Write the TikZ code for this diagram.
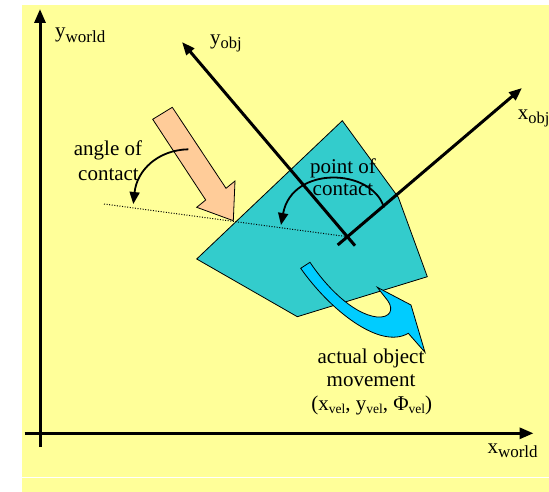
\documentclass[tikz,border=0pt]{standalone}
\usepackage{fontspec}
\setmainfont{Liberation Serif}
\usetikzlibrary{arrows.meta}
\definecolor{bgyellow}{HTML}{FFFF99}
\definecolor{objteal}{HTML}{33CCCC}
\definecolor{peach}{HTML}{FFCC99}
\definecolor{skyblue}{HTML}{00CCFF}
\newcommand{\sbs}[3]{\raisebox{-#1}{\fontsize{#2}{#2}\selectfont #3}}
\begin{document}
\begin{tikzpicture}[x=1pt,y=-1pt,
  axis/.style={line width=3pt,-{Triangle[length=14pt,width=11pt]}},
  objaxis/.style={line width=3pt,-{Triangle[length=13pt,width=10pt]}},
  curvarrow/.style={line width=1.8pt,-{Triangle[length=12pt,width=10pt]}},
  lbl/.style={inner sep=0pt,anchor=base,font=\fontsize{21}{23}\selectfont},
  shapeline/.style={draw=black,line width=0.8pt,line join=miter}]
\useasboundingbox (0,0) rectangle (549,492);
\fill[bgyellow] (22,5) rectangle (549,492);
\draw[white,line width=0.8pt] (22,477.3) -- (549,477.3);
% world axes
\coordinate (yb) at (40,447);
\coordinate (yt) at (40,9);
\coordinate (xl) at (24.5,433.3);
\coordinate (xr) at (533.5,433.3);
\draw[axis] (yb) -- (yt);
\draw[axis] (xl) -- (xr);
% object
\filldraw[fill=objteal,shapeline] (342.3,120.7) -- (398.3,197.3) -- (427.3,276.7) -- (297.3,316.7) -- (196.7,259) -- cycle;
% pushing arrow
\filldraw[fill=peach,shapeline] (152.7,119.3) -- (172.3,107.3) -- (226,188.3) -- (235,181) -- (233.3,220.7) -- (196.7,207.3) -- (205.7,200) -- cycle;
% object axes
\coordinate (O) at (347.4,236.7);
\coordinate (yos) at (355,245.7);
\coordinate (yot) at (182,42);
\coordinate (xos) at (337.7,245);
\coordinate (xot) at (522,88);
\draw[objaxis] (yos) -- (yot);
\draw[objaxis] (xos) -- (xot);
% dotted line
\coordinate (dl) at (104,204);
\draw[line width=1pt,dash pattern=on 1pt off 1.6pt] (dl) -- (O);
% movement arrow
\filldraw[fill=skyblue,shapeline] (310,262.3) -- (300.7,268.3)
  .. controls (330,310) and (380,350) .. (408.3,333.3)
  -- (425,352.3) -- (411,305) -- (377.3,287.3) -- (388,301)
  .. controls (394,310) and (390,318) .. (377,317)
  .. controls (352,314) and (325,285) .. (310,262.3) -- cycle;
% curved arrows
\coordinate (a1s) at (188.3,149.3);
\coordinate (a1e) at (133.3,204);
\draw[curvarrow] (a1s) .. controls (158,150) and (137,170) .. (a1e);
\coordinate (a2s) at (384,207.5);
\coordinate (a2e) at (281,225);
\draw[curvarrow] (a2s) .. controls (372,168) and (292,165) .. (a2e);
% labels
\node[lbl,anchor=base west] (yw) at (55,38) {y\sbs{4.5pt}{17}{world}};
\node[lbl,anchor=base west] (xw) at (487.3,453) {x\sbs{4pt}{17}{world}};
\node[lbl,anchor=base west] (yo) at (210,44.5) {y\sbs{4.5pt}{16.5}{obj}};
\node[lbl,anchor=base west] (xo) at (517.7,119.3) {x\sbs{4.5pt}{16.5}{obj}};
\node[lbl] (ang1) at (108,156) {angle of};
\node[lbl] (ang2) at (108.5,180) {contact};
\node[lbl] (pc1) at (343,173.3) {point of};
\node[lbl] (pc2) at (343,195.7) {contact};
\node[lbl] (mv1) at (371,363.3) {actual object};
\node[lbl] (mv2) at (371,386.7) {movement};
\node[lbl] (mv3) at (371.7,410) {(x\sbs{3pt}{13.5}{vel}, y\sbs{3pt}{13.5}{vel}, Φ\sbs{3pt}{13.5}{vel})};
\end{tikzpicture}
\end{document}
